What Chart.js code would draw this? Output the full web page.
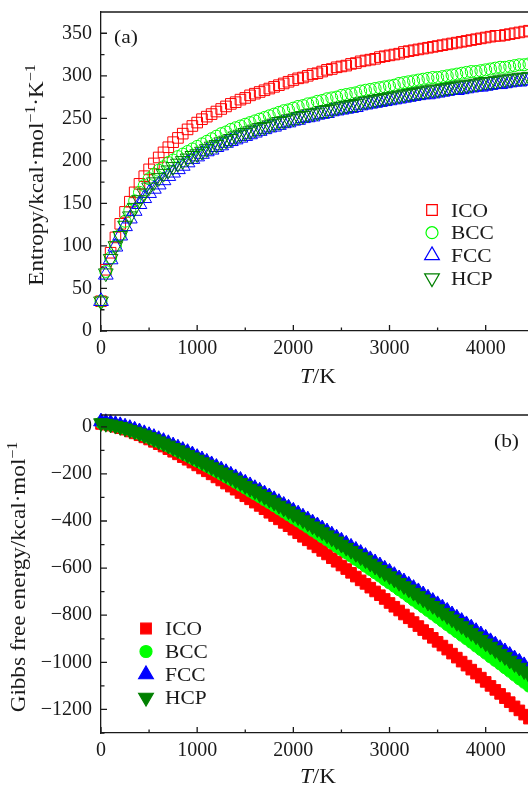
<!DOCTYPE html>
<html>
<head>
<meta charset="utf-8">
<script src="https://cdn.jsdelivr.net/npm/chart.js@4.4.1/dist/chart.umd.min.js"></script>
<style>
  body { margin: 0; background: #fff; }
  canvas { display: block; }
</style>
</head>
<body>
<canvas id="entropy" width="528" height="393" style="width:528px;height:393px"></canvas>
<canvas id="gibbs" width="528" height="394" style="width:528px;height:394px"></canvas>
<script>
// temperature grid, K
const temps = [0, 50, 100, 150, 200, 250, 300, 350, 400, 450, 500, 550, 600, 650, 700, 750, 800, 850, 900, 950,
  1000, 1050, 1100, 1150, 1200, 1250, 1300, 1350, 1400, 1450, 1500, 1550, 1600, 1650, 1700, 1750, 1800, 1850, 1900, 1950,
  2000, 2050, 2100, 2150, 2200, 2250, 2300, 2350, 2400, 2450, 2500, 2550, 2600, 2650, 2700, 2750, 2800, 2850, 2900, 2950,
  3000, 3050, 3100, 3150, 3200, 3250, 3300, 3350, 3400, 3450, 3500, 3550, 3600, 3650, 3700, 3750, 3800, 3850, 3900, 3950,
  4000, 4050, 4100, 4150, 4200, 4250, 4300, 4350, 4400, 4450];

const phases = ['ICO', 'BCC', 'FCC', 'HCP'];
const colors = ['#ff0000', '#00ff00', '#0000ff', '#008000'];

// tick positions (labels only on the majors)
const tTicks = [0, 500, 1000, 1500, 2000, 2500, 3000, 3500, 4000];
const entropyTicks = [0, 25, 50, 75, 100, 125, 150, 175, 200, 225, 250, 275, 300, 325, 350, 375];
const gibbsTicks = [-1300, -1200, -1100, -1000, -900, -800, -700, -600, -500, -400, -300, -200, -100, 0];

// (a) entropy
const entropyICO = [35, 72, 92, 110, 126, 140, 152, 163, 173, 182, 190, 197, 204, 210, 216, 222, 227, 232, 237, 241,
  245, 249, 252, 255, 258, 261, 264, 267, 269, 272, 274, 277, 279, 281, 283, 285, 287, 289, 291, 293,
  295, 297, 298, 300, 302, 303, 305, 307, 308, 310, 311, 312, 314, 315, 317, 318, 319, 320, 322, 323,
  324, 325, 326, 328, 329, 330, 331, 332, 333, 334, 335, 336, 337, 338, 339, 340, 341, 342, 343, 344,
  345, 346, 347, 347, 348, 349, 350, 351, 352, 353];
const entropyBCC = [35, 70, 86, 100, 113, 129, 142, 153, 163, 171, 179, 184, 189, 193, 198, 201, 205, 208, 211, 214,
  217, 220, 223, 226, 229, 232, 234, 237, 239, 241, 243, 245, 247, 249, 251, 253, 255, 257, 259, 260,
  262, 264, 265, 267, 268, 270, 271, 273, 274, 275, 277, 278, 279, 280, 282, 283, 284, 285, 286, 287,
  288, 289, 291, 292, 293, 294, 295, 296, 297, 298, 298, 299, 300, 301, 302, 303, 304, 305, 305, 306,
  307, 308, 309, 310, 310, 311, 312, 313, 313, 314];
const entropyFCC = [35, 66, 84, 99, 112, 123, 132, 141, 149, 156, 162, 167, 172, 177, 182, 186, 190, 194, 198, 202,
  205, 208, 211, 213, 216, 218, 221, 223, 225, 227, 229, 231, 233, 235, 237, 239, 240, 242, 244, 245,
  247, 248, 250, 251, 252, 254, 255, 256, 258, 259, 260, 261, 262, 263, 265, 266, 267, 268, 269, 270,
  271, 272, 273, 274, 275, 276, 277, 278, 278, 279, 280, 281, 282, 283, 283, 284, 285, 286, 287, 287,
  288, 289, 290, 290, 291, 292, 293, 293, 294, 295];
const entropyHCP = [35, 68, 85, 100, 112, 124, 135, 145, 154, 162, 169, 175, 180, 185, 189, 193, 197, 200, 203, 206,
  208, 211, 214, 217, 219, 222, 224, 226, 229, 231, 233, 235, 237, 239, 240, 242, 244, 246, 247, 249,
  250, 252, 253, 255, 256, 257, 259, 260, 261, 263, 264, 265, 266, 267, 269, 270, 271, 272, 273, 274,
  275, 276, 277, 278, 279, 280, 281, 282, 283, 284, 284, 285, 286, 287, 288, 289, 289, 290, 291, 292,
  293, 293, 294, 295, 296, 296, 297, 298, 298, 299];

// (b) Gibbs free energy
const gibbsICO = [12, 9, 5, 0, -6, -12, -20, -28, -36, -45, -54, -64, -74, -84, -95, -106, -117, -129, -140, -152,
  -164, -177, -189, -202, -215, -228, -241, -254, -267, -281, -295, -308, -322, -336, -350, -365, -379, -393, -408, -422,
  -437, -452, -467, -482, -497, -512, -527, -542, -558, -573, -589, -604, -620, -636, -652, -667, -683, -699, -715, -731,
  -748, -764, -780, -797, -813, -829, -846, -863, -879, -896, -913, -929, -946, -963, -980, -997, -1014, -1031, -1048, -1065,
  -1083, -1100, -1117, -1134, -1152, -1169, -1187, -1204, -1222, -1239];
const gibbsBCC = [17, 14, 10, 6, 1, -6, -12, -20, -28, -36, -45, -54, -63, -73, -82, -92, -103, -113, -123, -134,
  -145, -156, -167, -178, -189, -201, -213, -224, -236, -248, -260, -273, -285, -297, -310, -322, -335, -348, -361, -374,
  -387, -400, -413, -426, -440, -453, -467, -480, -494, -508, -522, -535, -549, -563, -577, -592, -606, -620, -634, -649,
  -663, -677, -692, -706, -721, -736, -750, -765, -780, -795, -810, -825, -840, -855, -870, -885, -900, -915, -931, -946,
  -961, -977, -992, -1007, -1023, -1038, -1054, -1070, -1085, -1101];
const gibbsFCC = [22, 19, 16, 11, 6, 0, -6, -13, -20, -28, -36, -44, -53, -61, -70, -80, -89, -99, -108, -118,
  -129, -139, -149, -160, -171, -182, -193, -204, -215, -226, -238, -249, -261, -272, -284, -296, -308, -320, -332, -344,
  -357, -369, -382, -394, -407, -419, -432, -445, -458, -471, -484, -497, -510, -523, -536, -549, -563, -576, -589, -603,
  -616, -630, -644, -657, -671, -685, -699, -712, -726, -740, -754, -768, -782, -797, -811, -825, -839, -853, -868, -882,
  -896, -911, -925, -940, -954, -969, -984, -998, -1013, -1028];
const gibbsHCP = [16, 13, 10, 5, 0, -6, -13, -20, -27, -35, -43, -52, -61, -70, -79, -89, -99, -109, -119, -129,
  -139, -150, -160, -171, -182, -193, -204, -215, -227, -238, -250, -262, -273, -285, -297, -309, -321, -334, -346, -358,
  -371, -383, -396, -409, -422, -434, -447, -460, -473, -486, -500, -513, -526, -539, -553, -566, -580, -593, -607, -621,
  -634, -648, -662, -676, -690, -704, -718, -732, -746, -760, -774, -789, -803, -817, -832, -846, -860, -875, -889, -904,
  -919, -933, -948, -963, -977, -992, -1007, -1022, -1037, -1052];

const serif = '"Liberation Serif", "DejaVu Serif", serif';
const ink = '#1a1a1a';
const stretch = 1.1;   // the original TeX font is a bit wider than Times
Chart.defaults.font.family = serif;
Chart.defaults.color = ink;

const markers = [
  { style: 'rect', r: 7.5, rot: 0 },
  { style: 'circle', r: 6, rot: 0 },
  { style: 'triangle', r: 8.5, rot: 0 },
  { style: 'triangle', r: 8.5, rot: 180 }
];

function makeDatasets(series, filled) {
  return series.map((vals, i) => ({
    label: phases[i],
    data: temps.map((t, k) => ({ x: t, y: vals[k] })),
    pointStyle: markers[i].style,
    pointRadius: markers[i].r,
    pointHoverRadius: markers[i].r,
    pointRotation: markers[i].rot,
    borderColor: colors[i],
    backgroundColor: filled ? colors[i] : 'rgba(0,0,0,0)',
    pointBorderWidth: 1,
    showLine: false,
    clip: false,
    order: 4 - i   // HCP ends up drawn on top
  }));
}

// text pieces: [string, size, italic, raise]
function drawRich(ctx, parts, x, y, align) {
  const font = p => (p[2] ? 'italic ' : '') + p[1] + 'px ' + serif;
  let w = 0;
  parts.forEach(p => { ctx.font = font(p); w += ctx.measureText(p[0]).width; });
  ctx.save();
  ctx.translate(x, y);
  ctx.scale(stretch, 1);
  let cx = align === 'center' ? -w / 2 : align === 'right' ? -w : 0;
  ctx.textAlign = 'left';
  parts.forEach(p => {
    ctx.font = font(p);
    ctx.fillText(p[0], cx, -(p[3] || 0));
    cx += ctx.measureText(p[0]).width;
  });
  ctx.restore();
}

// inward ticks, top frame line, axis titles, panel tag and legend
const decor = {
  id: 'decor',
  afterDraw(chart, args, o) {
    const { ctx, chartArea: a } = chart;
    const xs = chart.scales.x, ys = chart.scales.y;
    ctx.save();
    ctx.strokeStyle = ink;
    ctx.lineWidth = 1.3;
    ctx.beginPath();
    ctx.moveTo(a.left, a.top);
    ctx.lineTo(a.right, a.top);
    xs.ticks.forEach(t => {
      const px = xs.getPixelForValue(t.value);
      const len = t.value % 1000 === 0 ? 6 : 3.5;
      ctx.moveTo(px, a.bottom);
      ctx.lineTo(px, a.bottom - len);
    });
    ys.ticks.forEach(t => {
      const py = ys.getPixelForValue(t.value);
      const len = t.value % o.major === 0 ? 6 : 3.5;
      ctx.moveTo(a.left, py);
      ctx.lineTo(a.left + len, py);
    });
    ctx.stroke();

    ctx.fillStyle = ink;
    ctx.textBaseline = 'alphabetic';

    // (a) / (b)
    drawRich(ctx, [[o.tag.text, 19.5]], o.tag.x, o.tag.y, o.tag.align);

    // x title
    drawRich(ctx, [['T', 21, true], ['/K', 21]], o.xTitle.x, o.xTitle.y, 'center');

    // y title
    ctx.save();
    ctx.translate(o.yTitle.x, o.yTitle.y);
    ctx.rotate(-Math.PI / 2);
    drawRich(ctx, o.yTitle.parts, 0, 0, 'center');
    ctx.restore();

    // legend
    chart.data.datasets.forEach((ds, i) => {
      const ly = o.legend.y + i * o.legend.dy;
      ctx.fillStyle = ds.backgroundColor;
      ctx.strokeStyle = ds.borderColor;
      ctx.lineWidth = 1.2;
      Chart.helpers.drawPoint(ctx, {
        pointStyle: ds.pointStyle, radius: ds.pointRadius,
        rotation: ds.pointRotation, borderWidth: 1.2
      }, o.legend.x, ly);
      ctx.fillStyle = ink;
      drawRich(ctx, [[ds.label, 19.5]], o.legend.tx, ly + 6.5, 'left');
    });
    ctx.restore();
  }
};

function axisX(height) {
  return {
    type: 'linear', min: 0, max: 4440,
    grid: { display: false, drawTicks: false },
    border: { display: true, color: ink, width: 1.3 },
    afterBuildTicks(s) { s.ticks = tTicks.map(v => ({ value: v })); },
    ticks: {
      autoSkip: false, maxRotation: 0, padding: 6, color: ink, font: { size: 20 },
      callback: v => (v % 1000 === 0 ? String(v) : '')
    },
    afterFit(s) {
      s.height = height;
      s.paddingLeft = 0;
      s.paddingRight = 0;
    }
  };
}

function axisY(min, max, tickList, major, fmt) {
  return {
    min: min, max: max,
    grid: { display: false, drawTicks: false },
    border: { display: true, color: ink, width: 1.3 },
    afterBuildTicks(s) { s.ticks = tickList.map(v => ({ value: v })); },
    ticks: {
      autoSkip: false, padding: 9, color: ink, font: { size: 20 },
      callback: v => (v % major === 0 ? fmt(v) : '')
    },
    afterFit(s) {
      s.width = 101;
      s.paddingTop = 0;
      s.paddingBottom = 0;
    }
  };
}

function baseOptions(padTop) {
  return {
    responsive: false, animation: false, devicePixelRatio: 1,
    events: [],
    layout: { autoPadding: false, padding: { top: padTop, left: 0, right: 0, bottom: 0 } },
    plugins: { legend: { display: false }, tooltip: { enabled: false } }
  };
}

const opt1 = baseOptions(12);
opt1.scales = {
  x: axisX(62),
  y: axisY(0, 375, entropyTicks, 50, v => String(v))
};
opt1.plugins.decor = {
  major: 50,
  tag: { text: '(a)', x: 114, y: 43, align: 'left' },
  xTitle: { x: 318, y: 383 },
  yTitle: { x: 43, y: 175, parts: [['Entropy/kcal\u00b7mol', 21], ['\u22121', 14.5, false, 8], ['\u00b7K', 21], ['\u22121', 14.5, false, 8]] },
  legend: { x: 432, tx: 451, y: 210, dy: 22.7 }
};

new Chart(document.getElementById('entropy'), {
  type: 'scatter',
  data: { datasets: makeDatasets([entropyICO, entropyBCC, entropyFCC, entropyHCP], false) },
  options: opt1,
  plugins: [decor]
});

const opt2 = baseOptions(22);
opt2.scales = {
  x: axisX(54),
  y: axisY(-1300, 50, gibbsTicks, 200, v => (v < 0 ? '\u2212' + Math.abs(v) : String(v)))
};
opt2.plugins.decor = {
  major: 200,
  tag: { text: '(b)', x: 519, y: 54, align: 'right' },
  xTitle: { x: 318, y: 390 },
  yTitle: { x: 25, y: 184, parts: [['Gibbs free energy/kcal\u00b7mol', 21], ['\u22121', 14.5, false, 8]] },
  legend: { x: 146, tx: 165, y: 235.5, dy: 23 }
};

new Chart(document.getElementById('gibbs'), {
  type: 'scatter',
  data: { datasets: makeDatasets([gibbsICO, gibbsBCC, gibbsFCC, gibbsHCP], true) },
  options: opt2,
  plugins: [decor]
});
</script>
</body>
</html>
